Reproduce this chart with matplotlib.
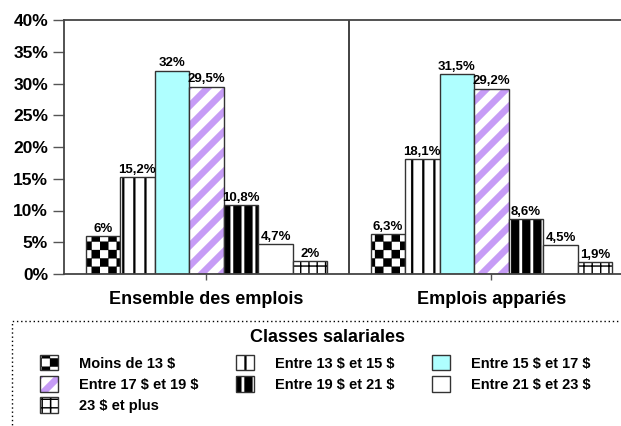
import warnings
import numpy as np
import matplotlib
matplotlib.use("Agg")
import matplotlib.pyplot as plt
import matplotlib.hatch as mhatch
from matplotlib.path import Path
from matplotlib.patches import Patch, Rectangle

warnings.filterwarnings("ignore")

categories = ["Ensemble des emplois", "Emplois appariés"]
classes = ["Moins de 13 $", "Entre 13 $ et 15 $", "Entre 15 $ et 17 $",
           "Entre 17 $ et 19 $", "Entre 19 $ et 21 $", "Entre 21 $ et 23 $",
           "23 $ et plus"]
ensemble = [6, 15.2, 32, 29.5, 10.8, 4.7, 2]
apparies = [6.3, 18.1, 31.5, 29.2, 8.6, 4.5, 1.9]

# face colour, hatch colour, hatch code
styles = [("white", "black", "c"),
          ("white", "black", "v"),
          ("#AFFFFF", "#AFFFFF", None),
          ("white", "#C69CF6", "d"),
          ("white", "black", "w"),
          ("white", "white", None),
          ("white", "black", "g")]


# --- home made hatch patterns (unit tile = 100 px at dpi 100) ---
def rect(x0, y0, x1, y1):
    return [(x0, y0), (x1, y0), (x1, y1), (x0, y1)]

def stripes(n, w):
    return [rect(k / n, -0.1, k / n + w, 1.1) for k in range(n)]

PATTERNS = {
    "c": [rect(i / 12, j / 12, (i + 1) / 12, (j + 1) / 12)
          for i in range(12) for j in range(12) if (i + j) % 2 == 0],
    "v": stripes(9, 0.02),
    "w": stripes(9, 0.08),
    "g": stripes(12, 0.012) + [rect(-0.1, k / 12, 1.1, k / 12 + 0.012) for k in range(12)],
    "d": [[(0, k / 5), (1, 1 + k / 5), (1, 1 + k / 5 + 0.09), (0, k / 5 + 0.09)]
          for k in range(-5, 5)],
}


class PolyHatch(mhatch.HatchPatternBase):
    def __init__(self, hatch, density):
        self.polys = []
        for ch in hatch:
            self.polys += PATTERNS.get(ch, [])
        self.num_vertices = 5 * len(self.polys)

    def set_vertices_and_codes(self, vertices, codes):
        for i, p in enumerate(self.polys):
            vertices[5 * i:5 * i + 4] = p
            vertices[5 * i + 4] = p[0]
            codes[5 * i] = Path.MOVETO
            codes[5 * i + 1:5 * i + 4] = Path.LINETO
            codes[5 * i + 4] = Path.CLOSEPOLY


mhatch._hatch_types.append(PolyHatch)

plt.rcParams["font.family"] = ["Liberation Sans", "DejaVu Sans"]
plt.rcParams["font.weight"] = "bold"
plt.rcParams["text.parse_math"] = False
plt.rcParams["hatch.linewidth"] = 0.2

W, H = 621, 426
fig = plt.figure(figsize=(W / 100, H / 100), dpi=100)
ax = fig.add_axes([64 / W, 1 - 274 / H, 570 / W, 254 / H])

x = np.arange(len(categories))
width = 0.1213
for i, cls in enumerate(classes):
    vals = [ensemble[i], apparies[i]]
    face, hcol, hatch = styles[i]
    pos = x + (i - 3) * width
    ax.bar(pos, vals, width, color=face, edgecolor=hcol, hatch=hatch, linewidth=0)
    bars = ax.bar(pos, vals, width, fill=False, edgecolor="#333333", linewidth=1)
    ax.bar_label(bars, labels=[f"{v:g}".replace(".", ",") + "%" for v in vals],
                 padding=1, fontsize=9.5, fontweight="bold")

ax.axvline(0.5, color="#333333", lw=1.3)
ax.set_xlim(-0.5, 1.5)
ax.set_ylim(0, 40)
ax.set_yticks(range(0, 41, 5))
ax.set_yticklabels([f"{t}%" for t in range(0, 41, 5)], fontsize=12.5, fontweight="bold")
ax.set_xticks(x)
ax.set_xticklabels(categories, fontsize=13, fontweight="bold")
ax.tick_params(axis="y", length=8, width=1, color="#555555", pad=3.5)
ax.tick_params(axis="x", length=4.5, width=1, color="#555555", pad=8)
for s in ["left", "bottom", "top"]:
    ax.spines[s].set_color("#444444")
    ax.spines[s].set_linewidth(1.3)
ax.spines["right"].set_visible(False)

# legend
handles = []
for face, hcol, hatch in styles:
    handles.append((Patch(facecolor=face, edgecolor=hcol, hatch=hatch, lw=0),
                    Patch(fill=False, edgecolor="#333333", lw=1)))
order = [0, 3, 6, 1, 4, 2, 5]
fig.legend([handles[k] for k in order], [classes[k] for k in order],
           loc="upper left", bbox_to_anchor=(40 / W, 1 - 355 / H), ncol=3,
           frameon=False, borderpad=0, borderaxespad=0,
           prop={"size": 10.5, "weight": "bold"},
           handlelength=1.25, handleheight=1.25, handletextpad=1.4,
           columnspacing=2.6, labelspacing=0.38)
fig.text(328 / W, 1 - 338 / H, "Classes salariales", ha="center", va="center",
         fontsize=13, fontweight="bold")
fig.add_artist(Rectangle((12 / W, -0.1), 632 / W, 1 - 321 / H + 0.1,
                         transform=fig.transFigure, fill=False, edgecolor="black",
                         lw=1, linestyle=(0, (1, 2))))

fig.savefig("out.png", dpi=100)
